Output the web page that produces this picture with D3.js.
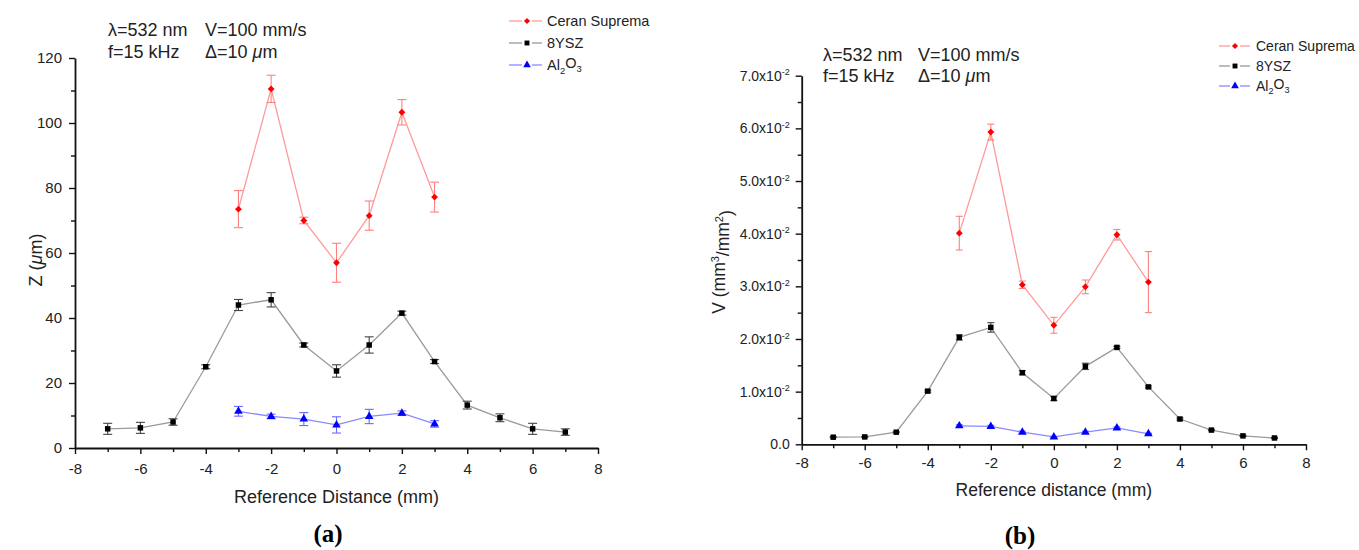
<!DOCTYPE html>
<html>
<head>
<meta charset="utf-8">
<script src="https://cdn.jsdelivr.net/npm/d3@7"></script>
<style>
  body { margin: 0; background: #fff; }
  svg { display: block; font-family: "Liberation Sans", Arial, sans-serif; }
  text { fill: #222; }
</style>
</head>
<body>
<svg id="chart" width="1359" height="550"></svg>
<script>
// Reference distance (mm) for each material
const distCeran = [-3, -2, -1, 0, 1, 2, 3];
const distYsz   = [-7, -6, -5, -4, -3, -2, -1, 0, 1, 2, 3, 4, 5, 6, 7];
const distAl    = [-3, -2, -1, 0, 1, 2, 3];

// (a) ablation depth Z (µm) with error
const zCeran    = [73.5, 110.5, 70.0, 57.0, 71.5, 103.3, 77.2];
const zCeranErr = [5.7, 4.2, 1.0, 6.0, 4.5, 3.9, 4.6];
const zYsz      = [5.9, 6.2, 8.0, 25.0, 44.0, 45.6, 31.7, 23.7, 31.7, 41.5, 26.6, 13.2, 9.3, 5.9, 4.9];
const zYszErr   = [1.7, 1.7, 1.0, 0.6, 1.7, 2.2, 0.6, 1.9, 2.5, 0.6, 0.6, 1.2, 1.2, 1.7, 1.0];
const zAl       = [11.3, 9.7, 8.9, 7.1, 9.7, 10.7, 7.4];
const zAlErr    = [1.5, 0.7, 2.0, 2.5, 2.2, 0.7, 1.0];

// (b) removed volume V (mm³/mm²) with error
const vCeran    = [0.0401, 0.0593, 0.0303, 0.0226, 0.0299, 0.0398, 0.0308];
const vCeranErr = [0.0032, 0.0015, 0.0007, 0.0015, 0.0013, 0.0010, 0.0058];
const vYsz      = [0.00135, 0.0014, 0.0023, 0.0101, 0.0203, 0.0222, 0.0136, 0.0087, 0.0148, 0.0184, 0.0109, 0.0048, 0.0027, 0.0016, 0.0012];
const vYszErr   = [0.0001, 0.0001, 0.0001, 0.0002, 0.0005, 0.0009, 0.0004, 0.0004, 0.0006, 0.0002, 0.0002, 0.0002, 0.0001, 0.0001, 0.0001];
const vAl       = [0.0035, 0.0034, 0.0023, 0.0014, 0.0023, 0.0031, 0.0020];
const vAlErr    = [0.0002, 0.0002, 0.0002, 0.0001, 0.0002, 0.0002, 0.0001];

// Axis ticks
const xTicks = [-8, -6, -4, -2, 0, 2, 4, 6, 8];
const xMinor = [-7, -5, -3, -1, 1, 3, 5, 7];
const zTicks = [0, 20, 40, 60, 80, 100, 120];
const zMinor = [10, 30, 50, 70, 90, 110];
const vTicks = [0, 0.01, 0.02, 0.03, 0.04, 0.05, 0.06, 0.07];
const vMinor = [0.005, 0.015, 0.025, 0.035, 0.045, 0.055, 0.065];

const seriesNames = ["Ceran Suprema", "8YSZ", "Al2O3"];

const svg = d3.select("#chart");

const styles = [
  { line: "#ff9a9a", err: "#ff8080", mark: "#ff0000", sym: d3.symbolDiamond2, size: 30 },
  { line: "#9a9a9a", err: "#444444", mark: "#000000", sym: d3.symbolSquare,  size: 30 },
  { line: "#8a8aff", err: "#6a6aff", mark: "#0000ff", sym: d3.symbolTriangle, size: 32 }
];

function styleAxis(sel, fs) {
  sel.attr("font-family", null);
  sel.select(".domain").attr("stroke", "#111").attr("stroke-width", 1.8);
  sel.selectAll(".tick line").attr("stroke", "#111").attr("stroke-width", 1.4);
  sel.selectAll(".tick text").attr("font-size", fs).attr("fill", "#222");
}

function legendLabel(t, name, subSize) {
  if (name === "Al2O3") {
    t.append("tspan").text("Al");
    t.append("tspan").text("2").attr("font-size", subSize).attr("dy", "0.35em");
    t.append("tspan").text("O").attr("dy", "-0.35em");
    t.append("tspan").text("3").attr("font-size", subSize).attr("dy", "0.35em");
  } else {
    t.text(name);
  }
}

function panel(cfg) {
  const x = d3.scaleLinear().domain([-8, 8]).range([cfg.x0, cfg.x1]);
  const y = d3.scaleLinear().domain([0, cfg.ymax]).range([cfg.y0, cfg.y1]);
  const g = svg.append("g");

  // minor ticks
  g.append("g").attr("transform", `translate(0,${cfg.y0})`)
    .call(d3.axisBottom(x).tickValues(xMinor).tickSize(4).tickSizeOuter(0).tickFormat(""))
    .call(s => { styleAxis(s, 0); s.select(".domain").remove(); });
  g.append("g").attr("transform", `translate(${cfg.x0},0)`)
    .call(d3.axisLeft(y).tickValues(cfg.yMinor).tickSize(4).tickSizeOuter(0).tickFormat(""))
    .call(s => { styleAxis(s, 0); s.select(".domain").remove(); });

  // major axes (plain hyphen for negative labels)
  g.append("g").attr("transform", `translate(0,${cfg.y0})`)
    .call(d3.axisBottom(x).tickValues(xTicks).tickSize(6).tickSizeOuter(0).tickPadding(cfg.xPad)
      .tickFormat(d => String(d)))
    .call(s => styleAxis(s, 15));
  const ya = g.append("g").attr("transform", `translate(${cfg.x0},0)`)
    .call(d3.axisLeft(y).tickValues(cfg.yTicks).tickSize(6).tickSizeOuter(0).tickPadding(cfg.yPad)
      .tickFormat(d => String(d)))
    .call(s => styleAxis(s, cfg.yFs));
  if (cfg.sci) {
    ya.selectAll(".tick text").each(function (d) {
      const t = d3.select(this).text("");
      if (d === 0) { t.text("0.0"); return; }
      t.append("tspan").text((d * 100).toFixed(1) + "x10");
      t.append("tspan").text("-2").attr("font-size", 9).attr("dy", "-0.6em");
    });
  }

  // series: line, error bars, markers
  cfg.series.forEach((s, i) => {
    const st = styles[i];
    const pts = s.x.map((xv, k) => ({ x: xv, y: s.y[k], e: s.e[k] }));
    g.append("path").datum(pts)
      .attr("fill", "none").attr("stroke", st.line).attr("stroke-width", 1.3)
      .attr("d", d3.line().x(d => x(d.x)).y(d => y(d.y)));
    const eb = g.append("g").attr("stroke", st.err).attr("stroke-width", 1.1);
    pts.forEach(d => {
      const cx = x(d.x), top = y(d.y + d.e), bot = y(d.y - d.e);
      eb.append("line").attr("x1", cx).attr("x2", cx).attr("y1", top).attr("y2", bot);
      eb.append("line").attr("x1", cx - cfg.cap).attr("x2", cx + cfg.cap).attr("y1", top).attr("y2", top);
      eb.append("line").attr("x1", cx - cfg.cap).attr("x2", cx + cfg.cap).attr("y1", bot).attr("y2", bot);
    });
    g.append("g").selectAll("path").data(pts).join("path")
      .attr("transform", d => `translate(${x(d.x)},${y(d.y)})`)
      .attr("d", d3.symbol().type(st.sym).size(st.size))
      .attr("fill", st.mark);
  });

  // legend
  const L = cfg.legend;
  seriesNames.forEach((name, i) => {
    const st = styles[i];
    const ly = L.y + i * L.dy;
    g.append("line").attr("x1", L.x).attr("x2", L.m - 5).attr("y1", ly).attr("y2", ly)
      .attr("stroke", st.line).attr("stroke-width", 1.3);
    g.append("line").attr("x1", L.m + 5).attr("x2", L.x2).attr("y1", ly).attr("y2", ly)
      .attr("stroke", st.line).attr("stroke-width", 1.3);
    g.append("path").attr("transform", `translate(${L.m},${ly})`)
      .attr("d", d3.symbol().type(st.sym).size(st.size * 0.8)).attr("fill", st.mark);
    const t = g.append("text").attr("x", L.tx).attr("y", ly).attr("dy", "0.36em")
      .attr("font-size", L.fs);
    legendLabel(t, name, L.fs * 0.65);
  });

  // process annotation
  const A = cfg.note;
  const t1 = g.append("text").attr("x", A.x).attr("y", A.y).attr("font-size", 18);
  t1.append("tspan").text("\u03bb=532 nm");
  t1.append("tspan").attr("x", A.x2).text("V=100 mm/s");
  const t2 = g.append("text").attr("x", A.x).attr("y", A.y + A.dy).attr("font-size", 18);
  t2.append("tspan").text("f=15 kHz");
  t2.append("tspan").attr("x", A.x2).text("\u0394=10 ");
  t2.append("tspan").attr("font-style", "italic").text("\u03bc");
  t2.append("tspan").text("m");

  // axis titles
  g.append("text").attr("x", x(0)).attr("y", cfg.xTitleY).attr("text-anchor", "middle")
    .attr("font-size", cfg.titleFs).text(cfg.xTitle);
  const yt = g.append("text").attr("transform", `translate(${cfg.yTitleX},${cfg.yTitleY}) rotate(-90)`)
    .attr("text-anchor", "middle").attr("font-size", cfg.titleFs);
  cfg.yTitle(yt);

  // panel tag
  g.append("text").attr("x", cfg.tag.x).attr("y", cfg.tag.y).attr("text-anchor", "middle")
    .style("font-family", '"Liberation Serif", "Times New Roman", serif')
    .attr("font-weight", "bold").attr("font-size", 25).style("fill", "#000").text(cfg.tag.text);
}

panel({
  x0: 75, x1: 598, y0: 448, y1: 58, ymax: 120,
  yTicks: zTicks, yMinor: zMinor, yFs: 15, xPad: 9, yPad: 7, cap: 4.5,
  series: [
    { x: distCeran, y: zCeran, e: zCeranErr },
    { x: distYsz, y: zYsz, e: zYszErr },
    { x: distAl, y: zAl, e: zAlErr }
  ],
  legend: { x: 509, m: 527, x2: 542, tx: 547, y: 21, dy: 22, fs: 14.5 },
  note: { x: 108, x2: 205, y: 36, dy: 22 },
  xTitle: "Reference Distance (mm)", xTitleY: 503, titleFs: 18,
  yTitleX: 42, yTitleY: 260,
  yTitle: t => {
    t.append("tspan").text("Z (");
    t.append("tspan").attr("font-style", "italic").text("\u03bc");
    t.append("tspan").text("m)");
  },
  tag: { x: 328, y: 542, text: "(a)" }
});

panel({
  x0: 801.7, x1: 1306, y0: 444.3, y1: 75.7, ymax: 0.07,
  yTicks: vTicks, yMinor: vMinor, yFs: 14, xPad: 7.5, yPad: 6, cap: 3.5, sci: true,
  series: [
    { x: distCeran, y: vCeran, e: vCeranErr },
    { x: distYsz, y: vYsz, e: vYszErr },
    { x: distAl, y: vAl, e: vAlErr }
  ],
  legend: { x: 1219, m: 1235, x2: 1250, tx: 1256, y: 46, dy: 20, fs: 14 },
  note: { x: 823, x2: 918, y: 61, dy: 21 },
  xTitle: "Reference distance (mm)", xTitleY: 496, titleFs: 17.5,
  yTitleX: 725, yTitleY: 262,
  yTitle: t => {
    t.append("tspan").text("V (mm");
    t.append("tspan").text("3").attr("font-size", 11).attr("dy", "-0.55em");
    t.append("tspan").text("/mm").attr("dy", "0.55em");
    t.append("tspan").text("2").attr("font-size", 11).attr("dy", "-0.55em");
    t.append("tspan").text(")").attr("dy", "0.55em");
  },
  tag: { x: 1020, y: 544, text: "(b)" }
});
</script>
</body>
</html>
